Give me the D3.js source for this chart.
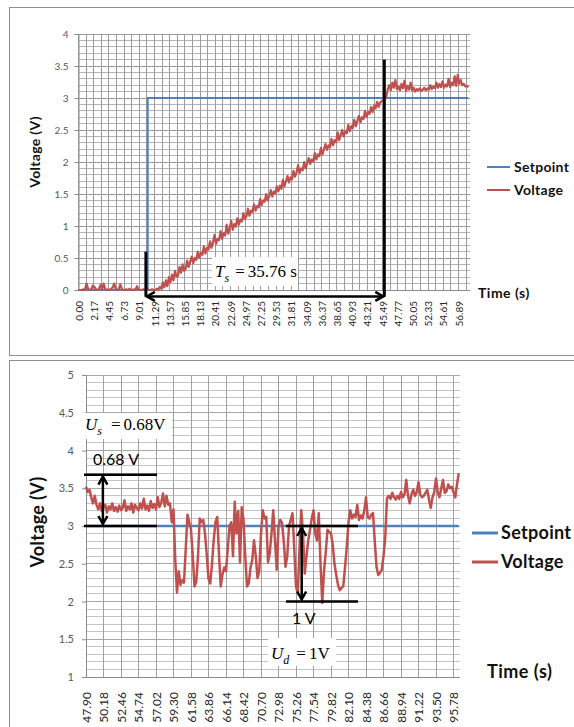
<!DOCTYPE html>
<html>
<head>
<meta charset="utf-8">
<script src="https://cdn.jsdelivr.net/npm/d3@7"></script>
<style>
  html, body { margin: 0; padding: 0; background: #fff; }
  svg { display: block; }
</style>
</head>
<body>
<svg id="chart" width="574" height="727"></svg>
<script>
// ---------------------------------------------------------------
// Step response: setpoint switched from 0 V to 3 V at about 10 s.
// ---------------------------------------------------------------
const riseTickLabels = ["0.00","2.17","4.45","6.73","9.01","11.29","13.57","15.85","18.13","20.41",
  "22.69","24.97","27.25","29.53","31.81","34.09","36.37","38.65","40.93","43.21",
  "45.49","47.77","50.05","52.33","54.61","56.89"];
const riseSampleStep = 0.228;   // seconds between voltage samples, first sample at 0 s
const riseVoltage = [
  0,0,0,0.01,0,0.1,0.02,0,0.01,0.07,
  0.05,0.01,0,0.02,0.08,0.01,0.1,0.02,0,0.01,
  0,0.02,0.04,0.1,0.01,0,0.01,0.09,0.02,0,
  0,0.01,0,0.02,0,0,0.01,0,0.06,0.01,
  0,0,0.01,0,0,0.01,0,0,0.01,0,
  0,0.02,
  0.00,0.05,0.02,0.12,0.04,0.15,0.06,0.20,0.12,0.24,
  0.15,0.30,0.21,0.22,0.36,0.27,0.40,0.30,0.33,0.46,
  0.36,0.44,0.52,0.42,0.50,0.47,0.60,0.50,0.58,0.55,
  0.68,0.57,0.66,0.63,0.76,0.66,0.74,0.86,0.72,0.80,
  0.78,0.92,0.80,0.89,0.85,1.02,0.88,0.97,1.08,0.94,
  1.03,0.99,1.12,1.02,1.10,1.07,1.20,1.11,1.15,1.27,
  1.16,1.24,1.22,1.34,1.24,1.31,1.29,1.42,1.33,1.40,
  1.38,1.50,1.40,1.47,1.56,1.46,1.54,1.51,1.62,1.54,
  1.63,1.58,1.72,1.62,1.70,1.78,1.68,1.76,1.73,1.86,
  1.77,1.84,1.95,1.83,1.90,1.87,2.00,1.90,1.98,2.06,
  1.97,2.04,2.01,2.14,2.04,2.12,2.09,2.22,2.12,2.20,
  2.28,2.19,2.26,2.23,2.36,2.26,2.34,2.31,2.46,2.34,
  2.42,2.50,2.40,2.48,2.45,2.58,2.48,2.56,2.53,2.66,
  2.56,2.64,2.72,2.62,2.70,2.67,2.80,2.70,2.78,2.75,
  2.86,2.78,2.88,2.84,2.94,2.86,2.93,2.95,2.97,2.99,
  3.02,3.14,3.20,3.12,3.24,3.16,3.28,3.14,3.18,3.12,
  3.22,3.15,3.27,3.11,3.19,3.13,3.24,3.12,3.16,3.10,
  3.14,3.12,3.15,3.11,3.13,3.16,3.12,3.15,3.13,3.20,
  3.14,3.18,3.15,3.24,3.16,3.22,3.17,3.26,3.16,3.21,
  3.18,3.30,3.17,3.24,3.20,3.34,3.19,3.36,3.22,3.28,
  3.20,3.22,3.18,3.19,3.17
];
const riseSetpointTimes  = [0, 10.27, 10.27, 58.37];
const riseSetpointValues = [0, 0, 3, 3];
const settleStart = 10.0;    // s, start of the settling-time arrow
const settleTime  = 35.76;   // s

// ---------------------------------------------------------------
// Disturbance run around a 3 V setpoint.
// ---------------------------------------------------------------
const distTickLabels = ["47.90","50.18","52.46","54.74","57.02","59.30","61.58","63.86","66.14","68.42",
  "70.70","72.98","75.26","77.54","79.82","82.10","84.38","86.66","88.94","91.22","93.50","95.78"];
const distStartTime  = 47.90;
const distSampleStep = 0.228;
const distVoltage = [
  3.52,3.45,3.48,3.38,3.30,3.40,3.28,3.22,3.30,3.20,
  3.24,3.28,3.18,3.26,3.22,3.30,3.20,3.25,3.19,3.27,
  3.21,3.24,3.34,3.20,3.26,3.22,3.30,3.18,3.28,3.24,
  3.21,3.30,3.23,3.36,3.22,3.27,3.20,3.33,3.24,3.29,
  3.22,3.38,3.25,3.31,3.43,3.26,3.40,3.28,3.30,3.05,
  3.22,2.55,2.12,2.40,2.22,2.28,2.25,2.70,3.15,3.05,
  2.95,2.60,2.20,2.26,2.60,3.10,3.05,3.08,2.90,2.62,
  2.30,2.24,2.50,2.82,3.05,3.12,2.62,2.20,2.36,2.45,
  2.40,2.70,3.00,3.05,2.60,3.32,2.90,3.20,2.52,3.25,
  3.08,2.60,2.20,2.24,2.45,2.55,2.81,2.60,2.31,2.40,
  2.90,3.21,3.10,3.12,2.52,2.64,2.90,3.21,2.80,2.42,
  3.00,3.08,3.04,2.80,2.46,2.60,3.00,3.08,3.17,2.70,
  2.20,2.11,2.70,3.21,2.90,2.37,2.60,2.81,2.95,3.10,
  3.21,2.90,2.81,3.17,2.50,1.98,2.40,2.65,2.95,2.92,
  2.90,2.75,2.50,2.35,2.22,2.15,2.18,2.20,2.45,2.72,
  3.05,3.21,3.10,3.15,3.12,3.28,3.08,3.14,3.10,3.20,
  3.38,3.12,3.10,3.15,3.17,2.80,2.46,2.35,2.38,2.42,
  2.60,2.85,3.37,3.40,3.36,3.44,3.38,3.35,3.40,3.36,
  3.45,3.38,3.42,3.61,3.40,3.30,3.42,3.48,3.40,3.45,
  3.58,3.42,3.38,3.40,3.44,3.48,3.35,3.24,3.38,3.45,
  3.63,3.45,3.38,3.50,3.61,3.44,3.46,3.55,3.50,3.52,
  3.45,3.38,3.55,3.70
];
const distSetpointTimes  = [47.90, 96.46];
const distSetpointValues = [3, 3];
const overshootV  = 0.68;   // V above setpoint
const undershootV = 1;      // V below setpoint

const seriesNames  = ["Setpoint", "Voltage"];
const seriesColors = ["#4f81bd", "#c0504d"];

// ---------------------------------------------------------------
const SANS  = "Lato, 'Liberation Sans', sans-serif";
const SERIF = "'Liberation Serif', 'Times New Roman', serif";
const svg = d3.select("#chart");

// panel frames
svg.append("rect").attr("x", 9.5).attr("y", 7.5).attr("width", 600).attr("height", 348)
  .attr("fill", "none").attr("stroke", "#8e8e8e");
svg.append("rect").attr("x", 9.5).attr("y", 360.5).attr("width", 600).attr("height", 400)
  .attr("fill", "none").attr("stroke", "#8e8e8e");

function buildChart(cfg) {
  const g = svg.append("g");
  const tickNums = cfg.ticks.map(Number);
  const x = d3.scaleLinear()
    .domain(tickNums)
    .range(cfg.ticks.map((_, i) => cfg.left + i * cfg.step));
  const y = d3.scaleLinear().domain(cfg.yDomain).range([cfg.bottom, cfg.top]);

  const grid = g.append("g").attr("shape-rendering", "crispEdges");
  const nMinor = Math.round((cfg.yDomain[1] - cfg.yDomain[0]) / 0.1);
  for (let k = 0; k <= nMinor; k++) {
    const v = cfg.yDomain[0] + k * 0.1;
    const major = k % 5 === 0;
    grid.append("line")
      .attr("x1", cfg.left).attr("x2", cfg.right)
      .attr("y1", y(v)).attr("y2", y(v))
      .attr("stroke", major ? cfg.majorColor : cfg.minorColor)
      .attr("stroke-width", 1);
  }
  const vx = tickNums.map(t => x(t));
  if (cfg.halfGrid) {
    const extra = [];
    for (let i = 0; i < vx.length - 1; i++) extra.push((vx[i] + vx[i + 1]) / 2);
    extra.push(vx[vx.length - 1] + cfg.step / 2);
    extra.forEach(px => vx.push(px));
  }
  vx.filter(px => px <= cfg.right).forEach(px => {
    grid.append("line")
      .attr("x1", px).attr("x2", px)
      .attr("y1", cfg.top).attr("y2", cfg.bottom)
      .attr("stroke", cfg.vColor).attr("stroke-width", 1);
  });

  // y axis
  const majors = d3.range(0, Math.round((cfg.yDomain[1] - cfg.yDomain[0]) / 0.5) + 1)
    .map(k => cfg.yDomain[0] + k * 0.5);
  g.append("g").attr("transform", `translate(${cfg.left},0)`)
    .call(d3.axisLeft(y).tickValues(majors).tickFormat(d3.format("~g")).tickSize(4).tickPadding(cfg.yPad))
    .call(a => {
      a.select(".domain").attr("stroke", "#8c8c8c");
      a.selectAll(".tick line").attr("stroke", "#8c8c8c");
      a.selectAll("text").attr("font-family", SANS).attr("font-size", cfg.yFont).attr("fill", "#595959");
    });

  // x axis (category-style labels, rotated)
  const xa = g.append("g").attr("transform", `translate(0,${cfg.bottom})`)
    .call(d3.axisBottom(x).tickValues(tickNums).tickFormat((d, i) => cfg.ticks[i]).tickSize(0));
  xa.select(".domain").remove();
  xa.selectAll("text")
    .attr("transform", "rotate(-90)")
    .attr("text-anchor", "end")
    .attr("x", -cfg.xPad).attr("y", 0).attr("dy", "0.35em")
    .attr("font-family", SANS).attr("font-size", cfg.xFont).attr("fill", "#262626");
  g.append("line").attr("x1", cfg.left).attr("x2", cfg.right)
    .attr("y1", cfg.bottom).attr("y2", cfg.bottom)
    .attr("stroke", "#8c8c8c").attr("shape-rendering", "crispEdges");

  return { g, x, y };
}

function drawSeries(ch, times, values, color, width) {
  const pts = times.map((t, i) => ({ t, v: values[i] }));
  ch.g.append("path").datum(pts)
    .attr("fill", "none").attr("stroke", color).attr("stroke-width", width)
    .attr("stroke-linejoin", "round")
    .attr("d", d3.line().x(d => ch.x(d.t)).y(d => ch.y(d.v)));
}

function head(g, px, py, ang, w) {
  const L = 8, H = 4.5;
  const c = Math.cos(ang), s = Math.sin(ang);
  g.append("path")
    .attr("d", `M${px - L * c + H * s},${py - L * s - H * c}L${px},${py}L${px - L * c - H * s},${py - L * s + H * c}`)
    .attr("fill", "none").attr("stroke", "#000").attr("stroke-width", w);
}
function arrow(g, x1, y1, x2, y2, w) {
  g.append("line").attr("x1", x1).attr("y1", y1).attr("x2", x2).attr("y2", y2)
    .attr("stroke", "#000").attr("stroke-width", w);
  const a = Math.atan2(y2 - y1, x2 - x1);
  head(g, x2, y2, a, w);
  head(g, x1, y1, a + Math.PI, w);
}
function rule(g, x1, x2, yy, w) {
  g.append("line").attr("x1", x1).attr("x2", x2).attr("y1", yy).attr("y2", yy)
    .attr("stroke", "#000").attr("stroke-width", w);
}
function formula(g, box, tx, ty, sym, sub, rest, gap) {
  g.append("rect").attr("x", box[0]).attr("y", box[1]).attr("width", box[2]).attr("height", box[3])
    .attr("fill", "#fff");
  const t = g.append("text").attr("x", tx).attr("y", ty)
    .attr("font-family", SERIF).attr("font-size", 17).attr("fill", "#000");
  t.append("tspan").attr("font-style", "italic").text(sym);
  t.append("tspan").attr("font-style", "italic").attr("font-size", 12).attr("dy", 5).text(sub);
  t.append("tspan").attr("dx", gap).attr("dy", -5).text("=");
  t.append("tspan").attr("dx", 3).text(rest);
}
function legend(g, x1, x2, tx, ys, size, lw) {
  seriesNames.forEach((name, i) => {
    g.append("line").attr("x1", x1).attr("x2", x2).attr("y1", ys[i]).attr("y2", ys[i])
      .attr("stroke", seriesColors[i]).attr("stroke-width", lw);
    g.append("text").attr("x", tx).attr("y", ys[i]).attr("dy", "0.36em")
      .attr("font-family", SANS).attr("font-weight", "bold").attr("font-size", size)
      .attr("letter-spacing", "0.3px").attr("fill", "#111").text(name);
  });
}
function titles(g, yTitle, yx, yy, xTitle, xx, xy, size) {
  g.append("text").attr("transform", `translate(${yx},${yy}) rotate(-90)`)
    .attr("text-anchor", "middle").attr("font-family", SANS).attr("font-weight", "bold")
    .attr("letter-spacing", "0.3px").attr("font-size", size).attr("fill", "#111").text(yTitle);
  g.append("text").attr("x", xx).attr("y", xy).attr("dy", "0.36em")
    .attr("font-family", SANS).attr("font-weight", "bold").attr("letter-spacing", "0.5px")
    .attr("font-size", size).attr("fill", "#111").text(xTitle);
}

// ---------------- step-response chart ----------------
const riseChart = buildChart({
  ticks: riseTickLabels, left: 78.5, step: 15.2, right: 470,
  yDomain: [0, 4], bottom: 290, top: 34,
  majorColor: "#9c9c9c", minorColor: "#b4b4b4", vColor: "#9c9c9c", halfGrid: true,
  yFont: 10, yPad: 6, xFont: 10, xPad: 11
});
drawSeries(riseChart, riseSetpointTimes, riseSetpointValues, seriesColors[0], 2);
drawSeries(riseChart, riseVoltage.map((_, i) => i * riseSampleStep), riseVoltage, seriesColors[1], 2.2);

{
  const c = riseChart;
  const x1 = c.x(settleStart), x2 = c.x(settleStart + settleTime), ya = c.y(-0.1);
  c.g.append("line").attr("x1", x1).attr("x2", x1).attr("y1", c.y(0.6)).attr("y2", ya)
    .attr("stroke", "#000").attr("stroke-width", 3);
  c.g.append("line").attr("x1", x2).attr("x2", x2).attr("y1", c.y(3.6)).attr("y2", ya)
    .attr("stroke", "#000").attr("stroke-width", 3);
  arrow(c.g, x1 + 1, ya, x2 - 1, ya, 2.5);
  formula(c.g, [212, 257, 86, 29], 215, 277, "T", "s", `${settleTime} s`, 6);
}
legend(riseChart.g, 487, 510, 514, [167, 190], 14, 2);
titles(riseChart.g, "Voltage (V)", 40, 152, "Time (s)", 478, 293, 14);

// ---------------- disturbance chart ----------------
const distChart = buildChart({
  ticks: distTickLabels, left: 86, step: 17.5, right: 460,
  yDomain: [1, 5], bottom: 677, top: 375,
  majorColor: "#a8a8a8", minorColor: "#c4c4c4", vColor: "#a0a0a0", halfGrid: false,
  yFont: 11, yPad: 8, xFont: 12, xPad: 15
});
drawSeries(distChart, distSetpointTimes, distSetpointValues, seriesColors[0], 2.5);
drawSeries(distChart, distVoltage.map((_, i) => distStartTime + i * distSampleStep), distVoltage,
  seriesColors[1], 2.5);

{
  const c = distChart;
  const sp = distSetpointValues[0];
  // overshoot marker
  const xa = c.x(47.64), xb = c.x(57.15);
  rule(c.g, xa, xb, c.y(sp + overshootV), 2.5);
  rule(c.g, xa, xb, c.y(sp), 2.5);
  arrow(c.g, c.x(50.1), c.y(sp + overshootV) + 2, c.x(50.1), c.y(sp) - 2, 2.5);
  c.g.append("text").attr("x", 93).attr("y", c.y(sp + overshootV) - 10)
    .attr("font-family", SANS).attr("font-size", 16).attr("fill", "#000").text(`${overshootV} V`);
  formula(c.g, [82, 413, 90, 26], 85, 430, "U", "s", `${overshootV}V`, 9);

  // undershoot marker
  const xc = c.x(73.96), xd = c.x(83.34);
  rule(c.g, xc, xd, c.y(sp), 2.5);
  rule(c.g, xc, xd, c.y(sp - undershootV), 2.5);
  arrow(c.g, c.x(76.0), c.y(sp) + 2, c.x(76.0), c.y(sp - undershootV) - 2, 2.5);
  c.g.append("text").attr("x", 292).attr("y", c.y(sp - undershootV) + 22)
    .attr("font-family", SANS).attr("font-size", 16).attr("fill", "#000").text(`${undershootV} V`);
  formula(c.g, [268, 638, 68, 28], 271, 659, "U", "d", `${undershootV}V`, 7);
}
legend(distChart.g, 472, 498, 501, [533, 562], 18, 3);
titles(distChart.g, "Voltage (V)", 44, 522, "Time (s)", 487, 672, 18);
</script>
</body>
</html>
